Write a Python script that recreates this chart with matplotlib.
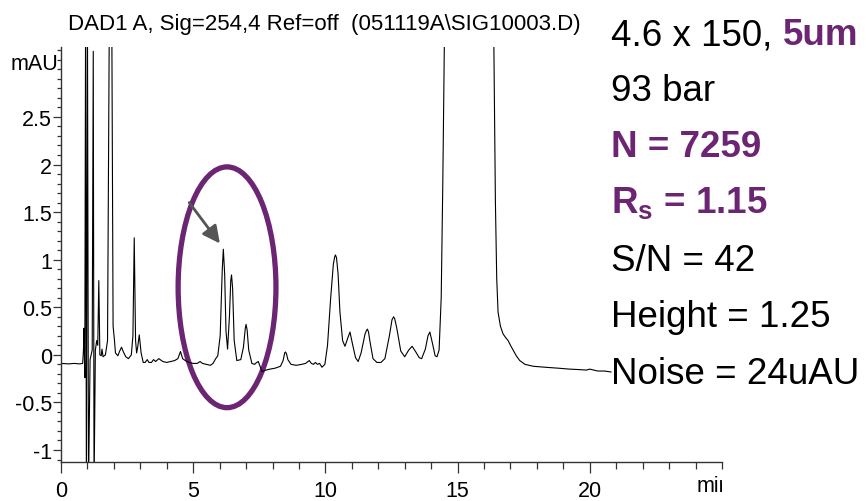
import matplotlib
matplotlib.use('Agg')
import matplotlib.pyplot as plt
import matplotlib.patches as mpatches
from matplotlib.ticker import MultipleLocator, FixedLocator, FixedFormatter
from matplotlib.transforms import Bbox, TransformedBbox, ScaledTranslation

# DAD1 A trace, 254 nm (retention time in min, signal in mAU)
time_min = [
    0.00, 0.30, 0.50, 0.70, 0.82, 0.85, 0.87, 0.885, 0.90, 0.93,
    0.96, 1.00, 1.04, 1.10, 1.18, 1.22, 1.25, 1.30, 1.35, 1.39,
    1.43, 1.47, 1.52, 1.55, 1.59, 1.68, 1.76, 1.83, 1.87, 1.92,
    1.97, 2.02, 2.06, 2.15, 2.22, 2.29, 2.36, 2.45, 2.55, 2.66,
    2.72, 2.77, 2.82, 2.86, 2.90, 2.96, 3.03, 3.11, 3.18, 3.26,
    3.33, 3.42, 3.50, 3.58, 3.70, 3.85, 4.00, 4.15, 4.30, 4.42,
    4.52, 4.60, 4.70, 4.85, 5.00, 5.15, 5.26, 5.35, 5.50, 5.65,
    5.75, 5.85, 5.93, 6.02, 6.10, 6.14, 6.19, 6.24, 6.30, 6.37,
    6.42, 6.45, 6.49, 6.55, 6.65, 6.80, 6.90, 6.97, 7.00, 7.04,
    7.10, 7.22, 7.32, 7.40, 7.46, 7.53, 7.60, 7.75, 7.90, 8.10,
    8.30, 8.40, 8.46, 8.49, 8.53, 8.58, 8.70, 8.90, 9.10, 9.25,
    9.39, 9.47, 9.55, 9.62, 9.70, 9.78, 9.87, 9.98, 10.08, 10.20,
    10.30, 10.35, 10.38, 10.42, 10.48, 10.55, 10.65, 10.74, 10.85, 10.93,
    11.02, 11.14, 11.24, 11.35, 11.50, 11.56, 11.59, 11.63, 11.68, 11.80,
    11.95, 12.10, 12.25, 12.42, 12.52, 12.58, 12.62, 12.70, 12.85, 13.00,
    13.15, 13.28, 13.42, 13.55, 13.64, 13.78, 13.88, 13.95, 14.05, 14.15,
    14.22, 14.30, 14.38, 14.44, 14.50, 14.70, 16.20, 16.37, 16.43, 16.48,
    16.53, 16.62, 16.72, 16.82, 16.91, 17.00, 17.10, 17.22, 17.35, 17.55,
    17.86, 18.30, 18.80, 19.24, 19.60, 19.87, 20.00, 20.30, 20.55, 20.80,
]
signal_mau = [
    -0.09, -0.095, -0.09, -0.095, -0.09, 0.05, 0.28, 0.0, -0.24, 3.6,
    -1.4, 3.6, -1.4, -0.05, 0.05, 3.19, -1.4, 0.05, 0.15, 0.10,
    0.78, 0.0, -0.01, 0.06, -0.02, 0.0, 0.15, 3.6, 8.0, 3.6,
    0.30, 0.16, 0.02, -0.01, 0.04, 0.08, 0.03, -0.02, -0.04, 0.0,
    0.20, 1.23, 0.15, 0.02, 0.08, 0.21, 0.02, -0.08, -0.08, -0.05,
    -0.08, -0.08, -0.05, -0.07, -0.04, -0.07, -0.08, -0.07, -0.06, -0.04,
    0.035, -0.04, -0.06, -0.08, -0.09, -0.09, -0.07, -0.09, -0.10, -0.11,
    -0.09, -0.04, -0.01, 0.20, 0.90, 1.11, 0.85, 0.25, 0.06, 0.40,
    0.78, 0.84, 0.70, 0.15, -0.06, -0.05, 0.08, 0.28, 0.32, 0.26,
    0.05, -0.09, -0.10, -0.08, -0.07, -0.12, -0.175, -0.16, -0.15, -0.14,
    -0.12, -0.06, 0.02, 0.03, 0.01, -0.05, -0.10, -0.11, -0.10, -0.09,
    -0.06, -0.09, -0.10, -0.08, -0.10, -0.09, -0.13, -0.10, 0.10, 0.60,
    0.95, 1.03, 1.05, 1.02, 0.85, 0.45, 0.15, 0.09, 0.18, 0.24,
    0.12, -0.03, -0.07, 0.02, 0.22, 0.26, 0.27, 0.24, 0.15, -0.04,
    -0.08, -0.08, -0.04, 0.20, 0.37, 0.40, 0.38, 0.28, 0.04, -0.02,
    0.05, 0.09, 0.03, -0.03, -0.04, 0.06, 0.20, 0.24, 0.12, -0.01,
    -0.02, 0.05, 0.60, 1.80, 3.30, 12.0, 12.0, 3.30, 1.60, 0.80,
    0.45, 0.30, 0.22, 0.18, 0.15, 0.10, 0.05, -0.01, -0.06, -0.10,
    -0.12, -0.13, -0.14, -0.15, -0.155, -0.16, -0.15, -0.17, -0.17, -0.18,
]

y_ticks = [-1, -0.5, 0, 0.5, 1, 1.5, 2, 2.5]
y_labels = ['-1', '-0.5', '0', '0.5', '1', '1.5', '2', '2.5']
x_ticks = [0, 5, 10, 15, 20]
x_labels = ['0', '5', '10', '15', '20']

title = 'DAD1 A, Sig=254,4 Ref=off  (051119A\\SIG10003.D)'
notes = ['93 bar', 'N = 7259', r'R$_\mathbf{s}$ = 1.15', 'S/N = 42',
         'Height = 1.25', 'Noise = 24uAU']
note_bold = [False, True, True, False, False, False]

PURPLE = '#6b2572'
NARROW = ['Liberation Sans Narrow', 'Liberation Sans', 'DejaVu Sans']
SANS = ['Liberation Sans', 'DejaVu Sans']
TICK_FS = 15.5

plt.rcParams['mathtext.fontset'] = 'custom'
plt.rcParams['mathtext.rm'] = 'Liberation Sans'
plt.rcParams['mathtext.bf'] = 'Liberation Sans:bold'

fig = plt.figure(figsize=(8.66, 5.02), dpi=100)
ax = fig.add_axes([61 / 866, 1 - 463 / 502, (722 - 61) / 866, (463 - 48) / 502])

ax.plot(time_min, signal_mau, color='black', lw=0.8)

ax.set_xlim(0, 25)
ax.set_ylim(-1.126, 3.235)

for s in ('top', 'right'):
    ax.spines[s].set_visible(False)
for s in ('left', 'bottom'):
    ax.spines[s].set_color('#333333')
    ax.spines[s].set_linewidth(1.0)

ax.xaxis.set_major_locator(FixedLocator(x_ticks))
ax.xaxis.set_major_formatter(FixedFormatter(x_labels))
ax.xaxis.set_minor_locator(MultipleLocator(1))
ax.yaxis.set_major_locator(FixedLocator(y_ticks))
ax.yaxis.set_major_formatter(FixedFormatter(y_labels))
ax.yaxis.set_minor_locator(MultipleLocator(0.1))

ax.tick_params(axis='x', which='major', length=8, width=0.9, pad=5, color='#333333')
ax.tick_params(axis='x', which='minor', length=5, width=0.9, color='#333333')
ax.tick_params(axis='y', which='major', length=6, width=0.9, pad=0.5, color='#333333')
ax.tick_params(axis='y', which='minor', length=3, width=0.9, color='#333333')
for lab in ax.get_xticklabels() + ax.get_yticklabels():
    lab.set_family(NARROW)
    lab.set_fontsize(TICK_FS)

ax.text(-0.004, 3.06, 'mAU', transform=ax.get_yaxis_transform(),
        ha='right', va='center', fontsize=TICK_FS, family=NARROW)

# time unit, cut off at the end of the axis
unit = ax.text(24.05, -1.126, 'min', ha='left', va='top', fontsize=TICK_FS,
               family=NARROW, clip_on=True,
               transform=ax.transData + ScaledTranslation(0, -13 / 100, fig.dpi_scale_trans))
unit.set_clip_box(TransformedBbox(Bbox([[0, -0.5], [1, 1]]), ax.transAxes))

fig.text(68 / 866, 1 - 30 / 502, title, ha='left', va='baseline',
         fontsize=16, family=NARROW)

# peak of interest
ax.add_patch(mpatches.Ellipse((6.28, 0.71), 3.7, 2.53, fill=False,
                              ec=PURPLE, lw=3.8))
ax.annotate('', xy=(6.01, 1.17), xytext=(4.85, 1.60),
            arrowprops=dict(arrowstyle='-|>', color='#555555', lw=2,
                            mutation_scale=26, shrinkA=0, shrinkB=0))

# column and method notes
x0 = 611 / 866
base = [45, 101, 157, 214, 271, 327, 384]
NOTE_FS = 26.5
t1 = fig.text(x0, 1 - base[0] / 502, '4.6 x 150, ', ha='left', va='baseline',
              fontsize=NOTE_FS, family=SANS)
fig.canvas.draw()
bb = t1.get_window_extent()
fig.text(bb.x1 / fig.bbox.width, 1 - base[0] / 502, '5um', ha='left',
         va='baseline', fontsize=NOTE_FS, family=SANS, fontweight='bold',
         color=PURPLE)
for txt, bold, yb in zip(notes, note_bold, base[1:]):
    fig.text(x0, 1 - yb / 502, txt, ha='left', va='baseline', fontsize=NOTE_FS,
             family=SANS, fontweight='bold' if bold else 'normal',
             color=PURPLE if bold else 'black')

fig.savefig('out.png', dpi=100)
